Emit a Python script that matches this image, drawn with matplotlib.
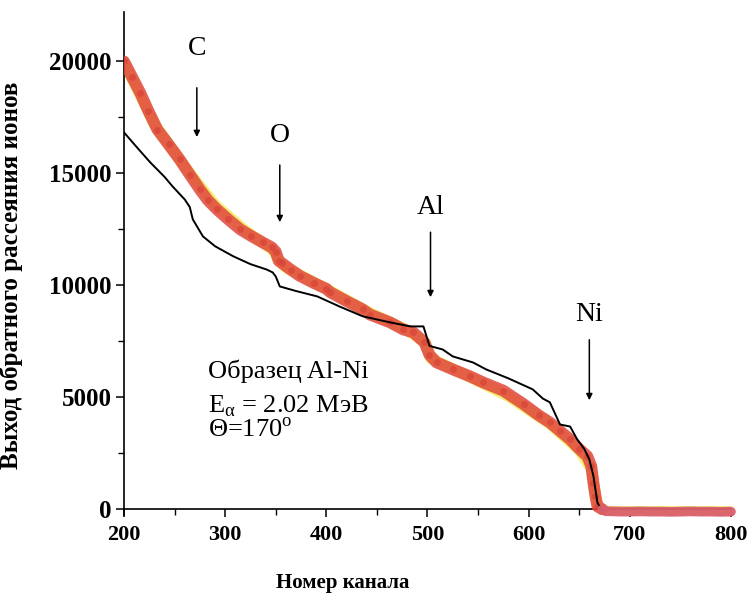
import matplotlib
matplotlib.use("Agg")
import matplotlib.pyplot as plt
import numpy as np
from matplotlib.ticker import MultipleLocator

exp_x = [200, 208, 216, 224, 233, 244, 255, 265, 275, 283, 292, 303, 315, 326, 337,
         346, 350, 353, 356, 365, 374, 388, 400, 404, 420, 436, 443, 463, 476, 486,
         497, 502, 509, 525, 542, 555, 575, 595, 610, 621, 631, 641, 650, 658, 662,
         664, 666, 668, 673]
exp_y = [20000, 19300, 18600, 17800, 16960, 16300, 15625, 14950, 14285, 13800, 13390,
         12950, 12500, 12200, 11920, 11700, 11500, 11100, 11000, 10700, 10420, 10100,
         9850, 9690, 9300, 8930, 8700, 8350, 8035, 7900, 7455, 6900, 6560, 6250, 5940,
         5670, 5300, 4700, 4200, 3880, 3500, 3125, 2700, 2370, 1920, 1200, 600, 134, 0]

# flat tail after the Ni edge
tail_x = [673, 676, 684, 692, 700, 710, 720, 730, 740, 750, 760, 770, 780, 790, 800]
tail_y = [0, -80, -90, -100, -100, -90, -100, -100, -110, -100, -90, -100, -100, -110, -100]

# fitted spectrum (yellow line)
fit_x = [200, 230, 260, 290, 320, 348, 352, 360, 400, 440, 480, 498, 503, 540, 580,
         620, 650, 662, 668, 675, 800]
fit_y = [19950, 17200, 15300, 13600, 12450, 11550, 11150, 10800, 9850, 8850, 8000,
         7450, 6750, 5950, 5050, 3850, 2650, 1800, 200, -100, -100]

# simulated spectrum (black line)
sim_x = [200, 215, 226, 240, 248, 260, 265, 268, 278, 290, 308, 325, 341, 347, 350,
         354, 370, 391, 413, 436, 463, 483, 496, 502, 515, 525, 545, 558, 580, 604,
         614, 621, 631, 641, 648, 655, 660, 664, 668, 672]
sim_y = [16830, 16050, 15490, 14850, 14420, 13840, 13500, 12950, 12190, 11750, 11300,
         10950, 10710, 10580, 10400, 9955, 9750, 9510, 9060, 8620, 8350, 8170, 8170,
         7300, 7140, 6830, 6560, 6250, 5850, 5360, 4950, 4780, 3790, 3700, 3125, 2700,
         2230, 1500, 300, 0]

# element edges: label, channel, label height, arrow start, arrow end
elements = ["C", "O", "Al", "Ni"]
elem_x = [272, 354, 503, 660]
elem_label_y = [20600, 16700, 13500, 8700]
elem_arrow_top = [18950, 15500, 12500, 7700]
elem_arrow_tip = [16500, 12700, 9350, 4750]

serif = "Liberation Serif"

fig = plt.figure(figsize=(7.52, 6.0), dpi=100)
ax = fig.add_axes([0.1649, 0.1417, 0.8071, 0.838])

ax.plot(fit_x, fit_y, color="#f4ee74", lw=8, solid_capstyle="round", zorder=2)
ax.plot(exp_x, exp_y, color="#e0473d", lw=8.5, alpha=0.85, solid_capstyle="round", zorder=3)
ax.plot(exp_x, exp_y, "o", color="#d63d36", ms=5, mew=0, alpha=0.6, zorder=3)
ax.plot(sim_x, sim_y, color="black", lw=1.4, zorder=4)
ax.plot(tail_x, tail_y, color="#d9606c", lw=7, alpha=0.95, solid_capstyle="round",
        zorder=5, clip_on=False)

for name, xe, ly, at, tip in zip(elements, elem_x, elem_label_y, elem_arrow_top, elem_arrow_tip):
    ax.text(xe, ly, name, ha="center", va="center", fontsize=20, family=serif)
    ax.annotate("", xy=(xe, tip), xytext=(xe, at),
                arrowprops=dict(arrowstyle="-|>", color="black", lw=1.1, mutation_scale=9))

ax.text(283, 6150, "Образец Al-Ni", fontsize=19, family=serif, va="center")
ax.text(283, 4600, "E$_\\mathregular{\\alpha}$ = 2.02 МэВ", fontsize=19, family=serif, va="center")
ax.text(283, 3550, "Θ=170$^\\mathregular{o}$", fontsize=19, family=serif, va="center")

ax.set_xlim(200, 800)
ax.set_ylim(-250, 22200)
ax.spines["top"].set_visible(False)
ax.spines["right"].set_visible(False)
ax.spines["bottom"].set_position(("data", 0))
ax.spines["left"].set_linewidth(1.2)
ax.spines["bottom"].set_linewidth(1.2)

ax.xaxis.set_major_locator(MultipleLocator(100))
ax.xaxis.set_minor_locator(MultipleLocator(50))
ax.yaxis.set_major_locator(MultipleLocator(5000))
ax.yaxis.set_minor_locator(MultipleLocator(2500))
ax.tick_params(which="major", direction="out", length=6, width=1.1, pad=5)
ax.tick_params(which="minor", direction="out", length=4, width=1.0)
ax.tick_params(axis="y", pad=3)

for lab in ax.get_xticklabels():
    lab.set_family(serif)
    lab.set_fontweight("bold")
    lab.set_fontsize(16)
for lab in ax.get_yticklabels():
    lab.set_family(serif)
    lab.set_fontweight("bold")
    lab.set_fontsize(18)

ax.set_xlabel("Номер канала", family=serif, fontweight="bold", fontsize=15)
ax.set_ylabel("Выход обратного рассеяния ионов", family=serif, fontweight="bold", fontsize=18)
ax.xaxis.set_label_coords(0.36, -0.115)
ax.yaxis.set_label_coords(-0.166, 0.477)

fig.savefig("out.png", dpi=100)
